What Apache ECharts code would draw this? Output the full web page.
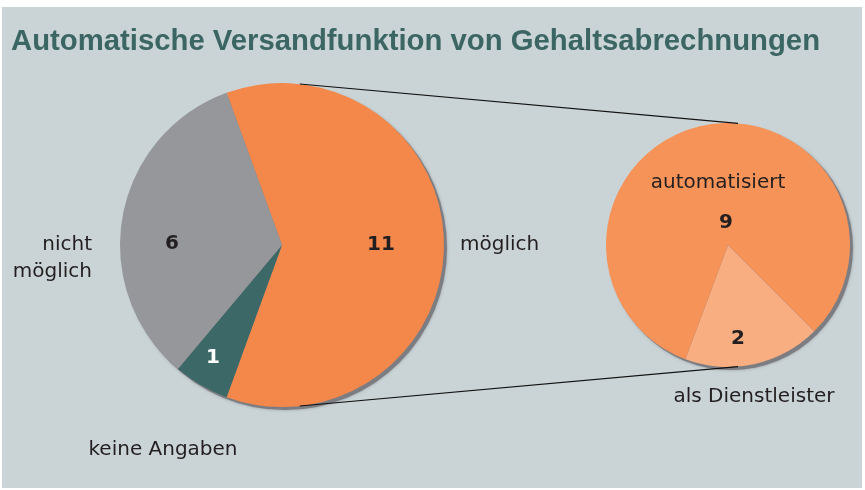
<!DOCTYPE html>
<html>
<head>
<meta charset="utf-8">
<script src="https://cdn.jsdelivr.net/npm/echarts@6/dist/echarts.min.js"></script>
<style>
  html, body { margin: 0; padding: 0; background: #fff; }
  #chart { width: 865px; height: 490px; }
</style>
</head>
<body>
<div id="chart"></div>
<script>
var titleText = 'Automatische Versandfunktion von Gehaltsabrechnungen';

// left pie: overall answers
var mainNames = ['möglich', 'keine Angaben', 'nicht\nmöglich'];
var mainValues = [11, 1, 6];
var mainColors = ['#f4884a', '#3d6868', '#96979a'];

// right pie: breakdown of "möglich"
var subNames = ['als Dienstleister', 'automatisiert'];
var subValues = [2, 9];
var subColors = ['#f8ae80', '#f59358'];

// layout
var leftC = [282, 245], leftR = 162;
var rightC = [728, 245], rightR = 122;
var ink = '#231f20';
var font = 'DejaVu Sans';

// label anchor points (text centres / edges)
var mainValuePos = [[381, 245], [213, 358], [172, 244]];
var mainNamePos = [
  { x: 460, y: 245, align: 'left' },
  { x: 163, y: 450, align: 'center' },
  { x: 92, y: 258, align: 'right' }
];
var subValuePos = [[738, 339], [726, 223]];
var subNamePos = [
  { x: 754, y: 397, align: 'center' },
  { x: 718, y: 183, align: 'center' }
];

function pt(c, r, deg) {
  var a = deg * Math.PI / 180;
  return [c[0] + r * Math.sin(a), c[1] - r * Math.cos(a)];
}

var chart = echarts.init(document.getElementById('chart'), null, { renderer: 'canvas' });

function valueLayout(pos) {
  return function(p) {
    return { x: pos[p.dataIndex][0], y: pos[p.dataIndex][1], align: 'center', verticalAlign: 'middle' };
  };
}
function nameLayout(pos) {
  return function(p) {
    var q = pos[p.dataIndex];
    return { x: q.x, y: q.y, align: q.align, verticalAlign: 'middle' };
  };
}

function shadowPie(c, r) {
  return {
    type: 'pie', silent: true, z: 1,
    center: [c[0] + 3, c[1] + 3], radius: r,
    label: { show: false }, labelLine: { show: false },
    itemStyle: { color: '#7c7d82', shadowColor: 'rgba(90,90,100,0.5)', shadowBlur: 3 },
    data: [1]
  };
}

var t1 = pt(leftC, leftR, 6.3), t2 = pt(rightC, rightR, 4.7);
var b1 = pt(leftC, leftR, 173.7), b2 = pt(rightC, rightR, 175.3);

var nameLabel = {
  show: true, position: 'outside', formatter: '{b}',
  fontFamily: font, fontSize: 20, color: ink, lineHeight: 27,
  width: 260, overflow: 'none'
};

chart.setOption({
  animation: false,
  backgroundColor: '#ffffff',
  title: {
    text: titleText,
    left: 6, top: 22,
    textStyle: { fontFamily: 'Liberation Sans', fontSize: 29.3, fontWeight: 'bold', color: '#3b6663' }
  },
  graphic: [
    { type: 'rect', z: -10, shape: { x: 2, y: 7, width: 860, height: 481 }, style: { fill: '#cad4d6' } },
    { type: 'line', z: 50, shape: { x1: t1[0], y1: t1[1], x2: t2[0], y2: t2[1] }, style: { stroke: '#111', lineWidth: 1.2 } },
    { type: 'line', z: 50, shape: { x1: b1[0], y1: b1[1], x2: b2[0], y2: b2[1] }, style: { stroke: '#111', lineWidth: 1.2 } }
  ],
  series: [
    shadowPie(leftC, leftR),
    shadowPie(rightC, rightR),
    {
      type: 'pie', z: 2,
      center: leftC, radius: leftR,
      startAngle: 110, clockwise: true,
      label: {
        show: true, position: 'inside', formatter: '{c}',
        fontFamily: font, fontSize: 20, fontWeight: 'bold', color: ink
      },
      labelLine: { show: false },
      labelLayout: valueLayout(mainValuePos),
      data: mainValues.map(function(v, i) {
        return {
          name: mainNames[i], value: v,
          itemStyle: { color: mainColors[i] },
          label: i === 1 ? { color: '#ffffff' } : {}
        };
      })
    },
    {
      type: 'pie', z: 3, silent: true,
      center: leftC, radius: leftR,
      startAngle: 110,
      itemStyle: { color: 'rgba(0,0,0,0)' },
      label: nameLabel,
      labelLine: { show: false },
      labelLayout: nameLayout(mainNamePos),
      data: mainValues.map(function(v, i) {
        return { name: mainNames[i], value: v, label: { align: mainNamePos[i].align } };
      })
    },
    {
      type: 'pie', z: 2,
      center: rightC, radius: rightR,
      startAngle: -45, clockwise: true,
      label: {
        show: true, position: 'inside', formatter: '{c}',
        fontFamily: font, fontSize: 20, fontWeight: 'bold', color: ink
      },
      labelLine: { show: false },
      labelLayout: valueLayout(subValuePos),
      data: subValues.map(function(v, i) {
        return { name: subNames[i], value: v, itemStyle: { color: subColors[i] } };
      })
    },
    {
      type: 'pie', z: 3, silent: true,
      center: rightC, radius: rightR,
      startAngle: -45,
      itemStyle: { color: 'rgba(0,0,0,0)' },
      label: nameLabel,
      labelLine: { show: false },
      labelLayout: nameLayout(subNamePos),
      data: subValues.map(function(v, i) { return { name: subNames[i], value: v }; })
    }
  ]
});
window.addEventListener('resize', function() { chart.resize(); });
</script>
</body>
</html>
